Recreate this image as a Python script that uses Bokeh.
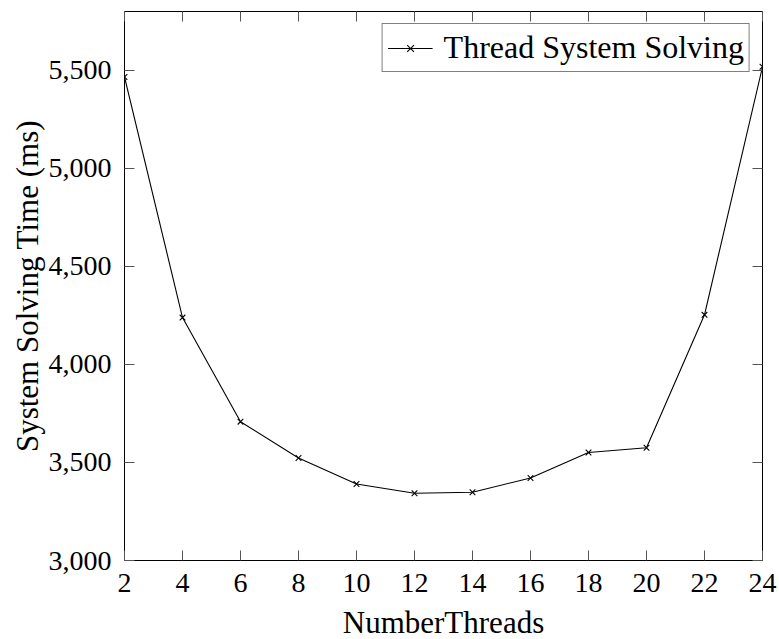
from bokeh.plotting import figure
from bokeh.models import (LinearAxis, FixedTicker, NumeralTickFormatter, Range1d,
                          Legend, LegendItem, CustomJSTickFormatter)
from bokeh.embed import file_html
from bokeh.resources import INLINE

threads = [2, 4, 6, 8, 10, 12, 14, 16, 18, 20, 22, 24]
solve_ms = [5466, 4239, 3708, 3523, 3390, 3343, 3348, 3421, 3551, 3575, 4253, 5518]
x_ticks = [2, 4, 6, 8, 10, 12, 14, 16, 18, 20, 22, 24]
y_ticks = [3000, 3500, 4000, 4500, 5000, 5500]
series_name = "Thread System Solving"

FONT = "Liberation Serif"
TICK_COLOR = "#555555"

p = figure(frame_width=638, frame_height=549,
           x_range=Range1d(2, 24), y_range=Range1d(3000, 5800),
           output_backend="svg", toolbar_location=None,
           min_border_left=124, min_border_right=17,
           min_border_top=11, min_border_bottom=79)

p.background_fill_color = "white"
p.border_fill_color = "white"
p.outline_line_color = "black"
p.outline_line_width = 1
p.xgrid.visible = False
p.ygrid.visible = False

line = p.line(threads, solve_ms, line_color="black", line_width=1.1)
marks = p.scatter(threads, solve_ms, marker="x", size=8, line_color="black", line_width=1.1)

def style_axis(ax, ticks, show_labels=True):
    ax.ticker = FixedTicker(ticks=ticks)
    ax.axis_line_color = None
    ax.major_tick_in = 10
    ax.major_tick_out = 0
    ax.major_tick_line_color = TICK_COLOR
    ax.major_tick_line_width = 1
    ax.minor_tick_line_color = None
    ax.major_label_text_font = FONT
    ax.major_label_text_color = "black"
    ax.major_label_text_font_size = "28px"
    if not show_labels:
        ax.formatter = CustomJSTickFormatter(code="return ''")
        ax.major_label_standoff = 0

xa = p.xaxis[0]
style_axis(xa, x_ticks)
xa.major_label_standoff = 13
xa.axis_label = "NumberThreads"
xa.axis_label_text_font = FONT
xa.axis_label_text_font_size = "31px"
xa.axis_label_text_font_style = "normal"
xa.axis_label_text_color = "black"
xa.axis_label_standoff = 10

ya = p.yaxis[0]
style_axis(ya, y_ticks)
ya.formatter = NumeralTickFormatter(format="0,0")
ya.major_label_standoff = 13
ya.axis_label = "System Solving Time (ms)"
ya.axis_label_text_font = FONT
ya.axis_label_text_font_size = "31px"
ya.axis_label_text_font_style = "normal"
ya.axis_label_text_color = "black"
ya.axis_label_standoff = 1

top_ax = LinearAxis()
style_axis(top_ax, x_ticks, show_labels=False)
p.add_layout(top_ax, "above")

right_ax = LinearAxis()
style_axis(right_ax, y_ticks, show_labels=False)
p.add_layout(right_ax, "right")

legend = Legend(items=[LegendItem(label=series_name, renderers=[line, marks])],
                location="top_right")
legend.label_text_font = FONT
legend.label_text_font_size = "32px"
legend.label_text_color = "black"
legend.glyph_width = 45
legend.glyph_height = 24
legend.label_standoff = 11
legend.padding = 5
legend.margin = 12
legend.spacing = 0
legend.border_line_color = "black"
legend.border_line_width = 1
legend.background_fill_alpha = 1
p.add_layout(legend, "center")

open("out.html", "w").write(file_html(p, INLINE))
